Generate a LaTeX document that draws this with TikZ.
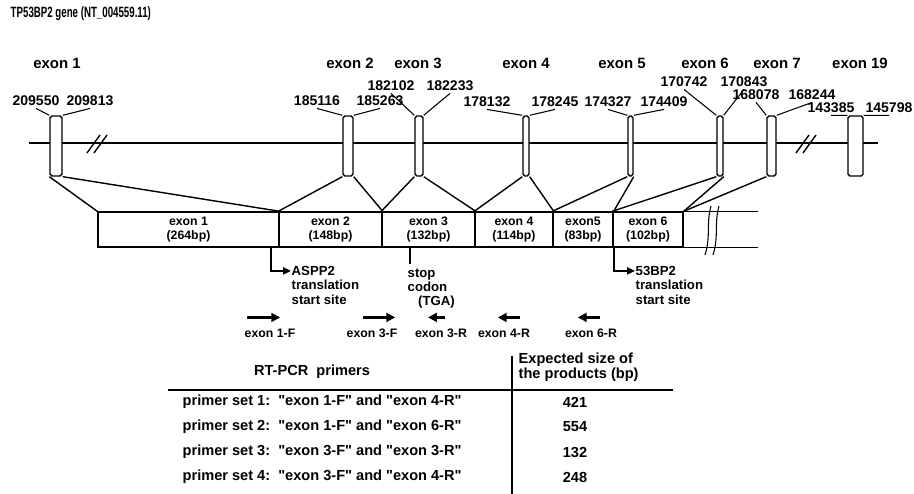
\documentclass[tikz,border=0pt]{standalone}
\usepackage{fontspec}
\setmainfont{Liberation Sans}
\usepackage{graphicx}
\usetikzlibrary{arrows.meta}

\begin{document}
\begin{tikzpicture}[x=0.02cm, y=-0.02cm, line width=0.8pt,
    exbox/.style={draw, fill=white, inner sep=0pt, minimum height=1.2cm, rounded corners=1pt},
    mbox/.style={draw, inner sep=0pt, minimum height=0.7cm, align=center, font=\fontsize{7}{7.5}\selectfont\bfseries},
    exlab/.style={inner sep=0pt, font=\fontsize{8.5}{10}\selectfont\bfseries},
    poslab/.style={inner sep=1pt, font=\fontsize{8}{9}\selectfont\bfseries},
    note/.style={inner sep=0pt, align=left, font=\fontsize{7.5}{8}\selectfont\bfseries},
    primerlab/.style={inner sep=0pt, font=\fontsize{7}{8}\selectfont\bfseries},
    tab/.style={inner sep=0pt, font=\fontsize{8.3}{8.8}\selectfont\bfseries},
    primer/.style={line width=1.3pt, -{Triangle[length=5pt,width=5pt]}},
    pointer/.style={line width=0.9pt, -{Triangle[length=4.5pt,width=4pt]}}]
  \useasboundingbox (0,0) rectangle (914,494);
  % 标题
  \node[anchor=west, inner sep=0pt, font=\fontsize{8.5}{10}\selectfont\bfseries] (title) at (10,14)
    {\scalebox{0.65}[1]{TP53BP2 gene (NT\_004559.11)}};
  % 基因组序列
  \draw[line width=1.1pt] (29,143) -- (878,143);
  \foreach \x in {95,804}{
    \draw (\x-8,153) -- (\x+5,135);
    \draw (\x-1,153) -- (\x+12,135);
  }
  \foreach \n/\x/\w in {1/56/12, 2/348/10, 3/419/8, 4/526/6, 5/630.5/5, 6/720/6, 7/771.5/9, 19/855.5/15}{
    \node[exbox, minimum width=\w*0.02cm] (g\n) at (\x,146) {};
  }
  \foreach \n/\x in {1/57, 2/350, 3/418, 4/526, 5/622, 6/705, 7/777, 19/860}{
    \node[exlab] (e\n) at (\x,63) {exon \n};
  }
  % 外显子坐标
  \foreach \n/\pa/\pb/\xa/\xb/\y in {1/209550/209813/36/90/101, 2/185116/185263/317/380/101,
      3/182102/182233/391/450/86, 4/178132/178245/487/555/102, 5/174327/174409/608/664/102,
      6/170742/170843/684/744/82, 7/168078/168244/756/812/95, 19/143385/145798/831/889/108}{
    \node[poslab] (s\n) at (\xa,\y) {\pa};
    \node[poslab] (t\n) at (\xb,\y) {\pb};
    \draw[line width=0.6pt] (s\n.south) -- (g\n.north west);
    \draw[line width=0.6pt] (t\n.south) -- (g\n.north east);
  }
  % mRNA
  \foreach \n/\x/\w/\lab/\bpn in {1/188.5/181/exon 1/264, 2/330.5/103/exon 2/148, 3/428.5/93/exon 3/132,
      4/514/78/exon 4/114, 5/583/60/exon5/83, 6/648/70/exon 6/102}{
    \node[mbox, minimum width=\w*0.02cm] (m\n) at (\x,229.5) {\lab\\(\bpn bp)};
  }
  \foreach \n in {1,...,6}{
    \draw (g\n.south west) -- (m\n.north west);
    \draw (g\n.south east) -- (m\n.north east);
  }
  \draw (g7.south west) -- (m6.north east);
  \draw (m6.north east) -- ++(74,0) coordinate (mtop);
  \draw (m6.south east) -- ++(74,0) coordinate (mbot);
  \foreach \x in {708,716}{
    \draw[line width=0.6pt] (\x+3,206) .. controls (\x-2,224) and (\x+3,236) .. (\x-3,255);
  }
  % 起始位点与终止密码子
  \coordinate (atg1) at (271,247);
  \coordinate (stopc) at (410,247);
  \coordinate (atg2) at (614,247);
  \node[note, anchor=north west] (aspp) at (291,266) {ASPP2\\translation\\start site};
  \node[note, anchor=north west] (stop) at (407,268) {stop\\codon\\\hspace*{6pt}(TGA)};
  \node[note, anchor=north west] (bp53) at (635,266) {53BP2\\translation\\start site};
  \draw[pointer] (atg1) |- ([yshift=-2.8pt]aspp.north west);
  \draw (stopc) -- ([yshift=2pt]stopc |- stop.north);
  \draw[pointer] (atg2) |- ([yshift=-2.8pt]bp53.north west);
  % 引物
  \foreach \nm/\lab/\x/\dx/\len in {p1f/exon 1-F/270/-13/33, p3f/exon 3-F/372/-5/32,
      p3r/exon 3-R/441/2.3/-17, p4r/exon 4-R/504/9/-22, p6r/exon 6-R/591/5/-22}{
    \node[primerlab] (\nm) at (\x,333) {\lab};
    \draw[primer] ([xshift=\dx pt, yshift=6pt]\nm.north) -- ++(\len,0);
  }
  % 表格
  \draw[line width=1.1pt] (168,390) -- (673,390);
  \draw (512,356) -- (512,494);
  \node[tab] (hprim) at (312,372) {RT-PCR\ \ primers};
  \node[tab, anchor=west, align=left] (hsize) at (518,367) {Expected size of\\the products (bp)};
  \foreach \i/\fw/\rv/\val in {1/1-F/4-R/421, 2/1-F/6-R/554, 3/3-F/3-R/132, 4/3-F/4-R/248}{
    \node[tab, anchor=west] (row\i) at (182,377+25*\i)
      {primer set \i:\ \ \textquotedbl exon \fw\textquotedbl\ and \textquotedbl exon \rv\textquotedbl};
    \node[tab] (val\i) at (575,377+25*\i) {\val};
  }
\end{tikzpicture}
\end{document}
